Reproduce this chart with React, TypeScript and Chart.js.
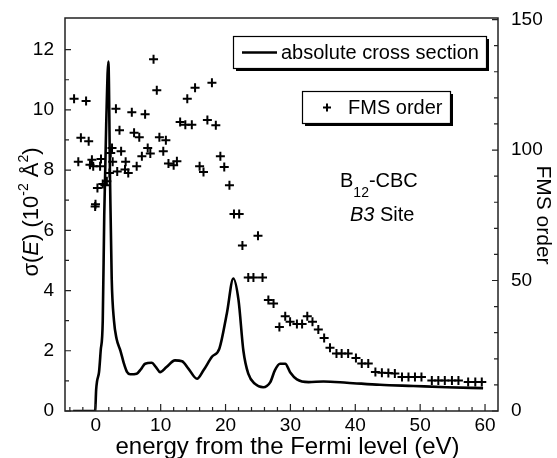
import React, { useEffect, useRef } from "react";
import { Chart, registerables } from "chart.js";

Chart.register(...registerables);

// ---- data ----
const energy = [
  -3.5, -0.1, 0.05, 0.2, 0.5, 0.75, 1.07, 1.3, 1.6, 1.94, 2.2, 2.45, 2.8, 3.2, 3.8, 4.3, 4.8, 5.3,
  6.3, 7.0, 7.6, 8.6, 9.3, 9.9, 10.9, 12.2, 13.3, 14.3, 15.6, 16.6, 17.9, 19.05, 20.2, 21.2, 22.0,
  22.75, 23.5, 24.55, 25.8, 26.9, 27.6, 28.4, 29.2, 29.95, 31.0, 32.8, 35.1, 38.7, 43.8, 48.95,
  54.1, 59.7,
];
const sigma = [
  0, 0, 0.7, 1.0, 1.3, 2.0, 3.0, 6.5, 9.5, 11.6, 7.6, 4.4, 3.0, 2.4, 2.0, 1.6, 1.3, 1.22,
  1.24, 1.4, 1.57, 1.6, 1.45, 1.29, 1.46, 1.68, 1.65, 1.4, 1.07, 1.35, 1.8, 2.07, 3.24, 4.4, 3.68,
  2.0, 1.24, 0.9, 0.79, 0.96, 1.35, 1.57, 1.57, 1.29, 1.05, 0.96, 0.98, 0.94, 0.87, 0.83,
  0.79, 0.76,
];

const fmsEnergy = [
  -3.35, -1.5, -2.3, -1.1, -2.7, -0.6, -0.9, -0.4, 0.8, 0.66, 0.25, 1.07, 1.7, -0.1, -0.05, 1.4,
  2.5, 3.9, 3.1, 3.65, 2.3, 2.6, 2.1, 3.3, 4.5, 4.6, 5.0, 5.55, 5.9, 6.3, 6.7, 7.1, 7.6, 8.0, 8.4,
  8.9, 9.4, 9.8, 10.4, 10.8, 11.2, 12.0, 12.5, 13.0, 13.8, 14.8, 14.1, 15.3, 16.0, 16.6, 17.2,
  17.9, 18.5, 19.2, 19.8, 20.6, 21.3, 22.1, 22.6, 23.5, 24.3, 25.0, 25.7, 26.6, 27.4, 28.3, 29.2,
  29.95, 31.0, 31.8, 32.6, 33.4, 34.3, 35.2, 36.1, 37.1, 37.9, 38.9, 40.1, 41.0, 42.0, 43.1, 44.1,
  45.1, 46.1, 47.2, 48.2, 49.2, 50.2, 51.8, 52.8, 53.8, 54.9, 55.9, 57.4, 58.5, 59.5,
];
const fmsOrder = [
  119.7, 118.8, 104.7, 103.4, 95.5, 96.3, 94.4, 93.8, 96.6, 93.8, 85.5, 87, 88, 78.4, 79.2, 86.5,
  100.8, 99.5, 115.8, 107.6, 98.9, 95.5, 91.2, 91.8, 92.5, 95.5, 91.2, 114.5, 106.6, 93.8, 104.9, 97.6, 113.7, 100.8, 98.7,
  134.8, 122.9, 104.9, 99.5, 103.8, 94.8, 94.2, 95.7, 110.7, 109.7, 109.7, 119.7, 123.9, 93.8, 91.6, 111.5,
  125.8, 109.5, 97.6, 93.5, 86.5, 75.5, 75.5, 63.4, 51.2, 51.2, 67.2, 51.2, 42.5, 41.2, 32.2, 36.3,
  34.2, 33.3, 33.3, 36.3, 34.2, 31.2, 28.0, 24.2, 22.0, 22.0, 22.0, 20.3, 18.2, 18.2, 14.9, 14.7,
  14.6, 14.4, 13.0, 13.0, 13.0, 13.0, 11.7, 11.7, 11.7, 11.7, 11.7, 11.1, 11.1, 11.1,
];

const xTicks = [0, 10, 20, 30, 40, 50, 60];
const xMinorTicks = [-4, -2, 2, 4, 6, 8, 12, 14, 16, 18, 22, 24, 26, 28, 32, 34, 36, 38, 42, 44, 46, 48, 52, 54, 56, 58];
const yTicks = [0, 2, 4, 6, 8, 10, 12];
const yMinorTicks = [1, 3, 5, 7, 9, 11];
const y2Ticks = [0, 50, 100, 150];
const y2MinorTicks = [10, 20, 30, 40, 60, 70, 80, 90, 110, 120, 130, 140];

const FONT = "'Liberation Sans', Arial, Helvetica, sans-serif";

const decor = {
  id: "decor",
  afterDatasetsDraw(chart: any) {
    const { ctx, chartArea: a, scales } = chart;
    const sx = scales.x, sy = scales.y, sy2 = scales.y2;
    ctx.save();
    // frame
    ctx.strokeStyle = "#222";
    ctx.lineWidth = 1.5;
    ctx.strokeRect(a.left, a.top, a.right - a.left, a.bottom - a.top);
    // ticks
    ctx.lineWidth = 1.2;
    ctx.beginPath();
    xTicks.forEach((v) => { const p = sx.getPixelForValue(v); ctx.moveTo(p, a.bottom); ctx.lineTo(p, a.bottom - 7); });
    xMinorTicks.forEach((v) => { const p = sx.getPixelForValue(v); ctx.moveTo(p, a.bottom); ctx.lineTo(p, a.bottom - 4); });
    yTicks.forEach((v) => { const p = sy.getPixelForValue(v); ctx.moveTo(a.left, p); ctx.lineTo(a.left + 6, p); });
    yMinorTicks.forEach((v) => { const p = sy.getPixelForValue(v); ctx.moveTo(a.left, p); ctx.lineTo(a.left + 4, p); });
    y2Ticks.forEach((v) => { const p = sy2.getPixelForValue(v); ctx.moveTo(a.right, p); ctx.lineTo(a.right - 6, p); });
    y2MinorTicks.forEach((v) => { const p = sy2.getPixelForValue(v); ctx.moveTo(a.right, p); ctx.lineTo(a.right - 4, p); });
    ctx.stroke();

    ctx.fillStyle = "#000";
    ctx.strokeStyle = "#000";
    ctx.textBaseline = "middle";
    ctx.textAlign = "left";

    const box = (x: number, y: number, w: number, h: number) => {
      ctx.fillStyle = "#000";
      ctx.fillRect(x + 3, y + 3, w, h);
      ctx.fillStyle = "#fff";
      ctx.fillRect(x, y, w, h);
      ctx.lineWidth = 1.2;
      ctx.strokeStyle = "#000";
      ctx.strokeRect(x + 0.5, y + 0.5, w, h);
      ctx.fillStyle = "#000";
    };
    // legend box 1
    box(233, 36, 253, 32);
    ctx.lineWidth = 2.5;
    ctx.beginPath();
    ctx.moveTo(242, 52.5);
    ctx.lineTo(277, 52.5);
    ctx.stroke();
    ctx.font = `20px ${FONT}`;
    ctx.fillText("absolute cross section", 281, 53);

    // legend box 2
    box(302, 91, 148, 32);
    ctx.lineWidth = 2;
    ctx.beginPath();
    ctx.moveTo(323, 107.5); ctx.lineTo(331, 107.5);
    ctx.moveTo(327, 103.5); ctx.lineTo(327, 111.5);
    ctx.stroke();
    ctx.fillText("FMS order", 348, 108);

    // annotation
    let xx = 340;
    ctx.font = `20px ${FONT}`;
    ctx.fillText("B", xx, 181);
    xx += ctx.measureText("B").width;
    ctx.font = `14px ${FONT}`;
    ctx.fillText("12", xx, 193);
    xx += ctx.measureText("12").width;
    ctx.font = `20px ${FONT}`;
    ctx.fillText("-CBC", xx, 181);

    xx = 350;
    ctx.font = `italic 20px ${FONT}`;
    ctx.fillText("B3", xx, 215);
    xx += ctx.measureText("B3").width;
    ctx.font = `20px ${FONT}`;
    ctx.fillText(" Site", xx, 215);

    // x title
    ctx.textAlign = "center";
    ctx.font = `24px ${FONT}`;
    ctx.fillText("energy from the Fermi level (eV)", 287.5, 447);

    // right title
    ctx.save();
    ctx.translate(543, 215);
    ctx.rotate(Math.PI / 2);
    ctx.font = `21px ${FONT}`;
    ctx.fillText("FMS order", 0, 0);
    ctx.restore();

    // left title with mixed styles
    const segs: [string, string, number][] = [
      ["\u03c3(", `22px ${FONT}`, 0],
      ["E", `italic 22px ${FONT}`, 0],
      [") (10", `22px ${FONT}`, 0],
      ["-2", `14px ${FONT}`, -8],
      [" \u00c5", `22px ${FONT}`, 0],
      ["2", `14px ${FONT}`, -8],
      [")", `22px ${FONT}`, 0],
    ];
    ctx.save();
    ctx.translate(32, 212);
    ctx.rotate(-Math.PI / 2);
    ctx.textAlign = "left";
    let total = 0;
    segs.forEach(([t, f]) => { ctx.font = f; total += ctx.measureText(t).width; });
    let cx = -total / 2;
    segs.forEach(([t, f, dy]) => { ctx.font = f; ctx.fillText(t, cx, dy); cx += ctx.measureText(t).width; });
    ctx.restore();

    ctx.restore();
  },
};

export default function App() {
  const ref = useRef<HTMLCanvasElement | null>(null);
  useEffect(() => {
    if (!ref.current) return;
    const tickFont = { family: FONT, size: 19 };
    const chart = new Chart(ref.current, {
      type: "line",
      data: {
        datasets: [
          {
            label: "absolute cross section",
            data: energy.map((e, i) => ({ x: e, y: sigma[i] })),
            borderColor: "#000",
            borderWidth: 2.6,
            pointRadius: 0,
            cubicInterpolationMode: "monotone",
            yAxisID: "y",
          },
          {
            label: "FMS order",
            data: fmsEnergy.map((e, i) => ({ x: e, y: fmsOrder[i] })),
            showLine: false,
            pointStyle: "cross",
            pointRadius: 4.5,
            pointBorderWidth: 2,
            borderColor: "#000",
            backgroundColor: "#000",
            yAxisID: "y2",
          },
        ],
      },
      options: {
        responsive: false,
        devicePixelRatio: 1,
        animation: false,
        layout: { padding: { top: 18, left: 0, right: 0, bottom: 0 } },
        plugins: { legend: { display: false }, tooltip: { enabled: false } },
        scales: {
          x: {
            type: "linear",
            min: -4.75,
            max: 62,
            grid: { display: false },
            border: { display: false },
            afterBuildTicks: (s: any) => { s.ticks = xTicks.map((v) => ({ value: v })); },
            afterFit: (s: any) => { s.height = 47; },
            ticks: { font: tickFont, color: "#000", padding: -5, maxRotation: 0, autoSkip: false },
          },
          y: {
            type: "linear",
            position: "left",
            min: 0,
            max: 13.05,
            grid: { display: false },
            border: { display: false },
            afterBuildTicks: (s: any) => { s.ticks = yTicks.map((v) => ({ value: v })); },
            afterFit: (s: any) => { s.width = 65; },
            ticks: { font: tickFont, color: "#000", padding: 3, autoSkip: false },
          },
          y2: {
            type: "linear",
            position: "right",
            min: 0,
            max: 150.6,
            grid: { display: false },
            border: { display: false },
            afterBuildTicks: (s: any) => { s.ticks = y2Ticks.map((v) => ({ value: v })); },
            afterFit: (s: any) => { s.width = 59; },
            ticks: { font: tickFont, color: "#000", padding: 5, autoSkip: false },
          },
        },
      },
      plugins: [decor],
    } as any);
    return () => chart.destroy();
  }, []);
  return (
    <div style={{ position: "fixed", left: 0, top: 0, width: 557, height: 458, background: "#fff" }}>
      <canvas ref={ref} width={557} height={458} style={{ display: "block", width: 557, height: 458 }} />
    </div>
  );
}
